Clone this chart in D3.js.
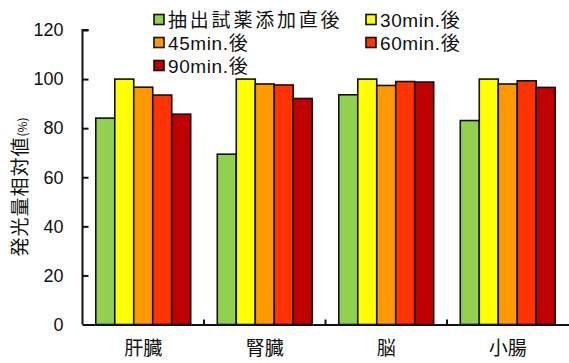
<!DOCTYPE html>
<html><head><meta charset="utf-8">
<script src="https://cdn.jsdelivr.net/npm/d3@7"></script>
<style>body{margin:0;background:#fff}svg{display:block}</style>
</head><body>
<script>
const categories = ["肝臓", "腎臓", "脳", "小腸"];
const seriesNames = ["抽出試薬添加直後", "30min.後", "45min.後", "60min.後", "90min.後"];
const seriesColors = ["#92D050", "#FFFF00", "#FF9900", "#FF3300", "#C00000"];
const s0 = [84.1, 69.4, 93.6, 83.1];
const s1 = [100, 100, 100, 100];
const s2 = [96.7, 98.0, 97.4, 98.0];
const s3 = [93.5, 97.6, 99.0, 99.3];
const s4 = [85.7, 92.1, 98.8, 96.6];
const series = [s0, s1, s2, s3, s4];
const yTicks = [0, 20, 40, 60, 80, 100, 120];

const W = 569, H = 363;
const mLeft = 82.5, mRight = 568.5, mTop = 30, mBottom = 324.5;
const svg = d3.select("body").append("svg").attr("width", W).attr("height", H);
const font = "'Liberation Sans', Arial, 'Noto Sans CJK JP', sans-serif";
const cjkFont = "'Noto Sans CJK JP', sans-serif";

const x = d3.scaleBand().domain(categories).range([mLeft, mRight]).paddingInner(0).paddingOuter(0);
const x1 = d3.scaleBand().domain(d3.range(5)).range([0, x.bandwidth()]).paddingOuter(0.7).paddingInner(0);
const y = d3.scaleLinear().domain([0, 120]).range([mBottom, mTop]);

// bars
const g = svg.append("g");
categories.forEach((c, ci) => {
  series.forEach((s, si) => {
    g.append("rect")
      .attr("x", x(c) + x1(si))
      .attr("y", y(s[ci]))
      .attr("width", x1.bandwidth())
      .attr("height", y(0) - y(s[ci]))
      .attr("fill", seriesColors[si])
      .attr("stroke", "#111")
      .attr("stroke-width", 1.6);
  });
});

// y axis
const ya = svg.append("g").attr("transform", `translate(${mLeft},0)`)
  .call(d3.axisLeft(y).tickValues(yTicks).tickSize(-6).tickPadding(19).tickFormat(d3.format("d")));
ya.select(".domain").attr("stroke", "#111").attr("stroke-width", 2).attr("d", `M6,${mTop}H0V${mBottom}`);
ya.selectAll(".tick line").attr("stroke", "#111").attr("stroke-width", 2);
ya.selectAll(".tick text").attr("font-family", font).attr("font-size", 18).attr("fill", "#111");

// x axis
const xa = svg.append("g").attr("transform", `translate(0,${mBottom})`)
  .call(d3.axisBottom(x).tickSize(0).tickPadding(17));
xa.select(".domain").attr("stroke", "#111").attr("stroke-width", 2);
xa.selectAll(".tick text").attr("font-family", cjkFont).attr("font-size", 19).attr("fill", "#111");
// inner category separator ticks
svg.append("g").selectAll("line").data(categories.slice(1)).join("line")
  .attr("x1", d => x(d)).attr("x2", d => x(d))
  .attr("y1", mBottom).attr("y2", mBottom - 5)
  .attr("stroke", "#111").attr("stroke-width", 2);

// y label
const yl = svg.append("text")
  .attr("transform", `translate(27,187) rotate(-90)`)
  .attr("text-anchor", "middle")
  .attr("font-family", cjkFont)
  .attr("font-size", 19).attr("fill", "#111");
yl.append("tspan").attr("letter-spacing", 1).text("発光量相対値");
yl.append("tspan").attr("font-size", 12).text("(%)");

// legend
const legendPos = [[154, 20], [366, 20], [154, 43], [366, 43], [154, 66]];
seriesNames.forEach((n, i) => {
  const [lx, ly] = legendPos[i];
  svg.append("rect").attr("x", lx).attr("y", ly - 5.5).attr("width", 10).attr("height", 10)
    .attr("fill", seriesColors[i]).attr("stroke", "#111").attr("stroke-width", 1.6);
  svg.append("text").attr("x", lx + 14).attr("y", ly).attr("dy", "0.36em")
    .attr("font-family", font).attr("font-size", 19).attr("fill", "#111")
    .attr("letter-spacing", i === 0 ? 2.8 : 0.6)
    .text(n);
});
</script>
</body></html>
